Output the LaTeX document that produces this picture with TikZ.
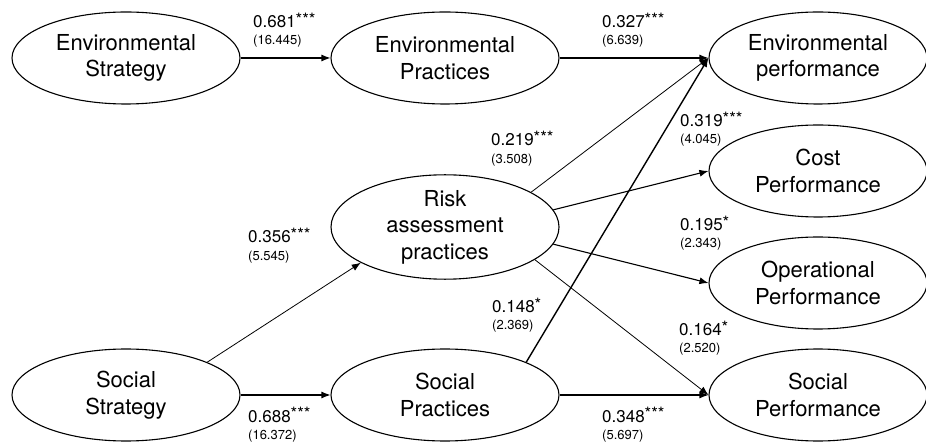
\documentclass[tikz,border=0pt]{standalone}
\usepackage{fontspec}
\setmainfont{TeX Gyre Heros}
\usetikzlibrary{shapes.geometric,arrows.meta}

% raised significance stars
\newcommand{\sigstars}[1]{\raisebox{2.5pt}{#1}}

\begin{document}
\begin{tikzpicture}[x=1pt,y=-1pt,
  construct/.style={ellipse,draw,line width=1.1pt,inner sep=0pt,
    minimum width=228pt,minimum height=92pt,align=center,
    font=\fontsize{22}{26.5}\selectfont},
  outcome/.style={construct,minimum width=218pt},
  effect/.style={line width=1.1pt,-{Latex[length=9pt,width=7pt]}},
  weakeffect/.style={effect,line width=0.8pt},
  strongeffect/.style={effect,line width=1.4pt},
  coef/.style={anchor=base west,inner sep=0pt,font=\fontsize{17}{20}\selectfont},
  tval/.style={anchor=base west,inner sep=0pt,font=\fontsize{13}{15}\selectfont},
]
\useasboundingbox (0,0) rectangle (926,443);

% constructs
\node[construct] (es)    at (126,58)  {Environmental\\Strategy};
\node[construct] (ep)    at (445,58)  {Environmental\\Practices};
\node[outcome]   (eperf) at (818,58)  {Environmental\\performance};
\node[outcome]   (cperf) at (818,171) {Cost\\Performance};
\node[construct] (risk)  at (445,227) {Risk\\assessment\\practices};
\node[outcome]   (operf) at (818,283) {Operational\\Performance};
\node[construct] (ss)    at (126,395) {Social\\Strategy};
\node[construct] (sp)    at (445,395) {Social\\Practices};
\node[outcome]   (sperf) at (818,395) {Social\\Performance};

% structural paths
\draw[effect] (es) -- (ep);
\draw[effect] (ep) -- (eperf);
\draw[effect] (ss) -- (sp);
\draw[effect] (sp) -- (sperf);
\draw[weakeffect] (ss.22) -- (risk.-157);
\draw[weakeffect] (risk.22) -- (eperf.west);
\draw[strongeffect] (sp.22) -- (eperf.west);
\draw[effect] (risk.9) -- (cperf.west);
\draw[effect] (risk.-9) -- (operf.west);
\draw[weakeffect] (risk.-20) -- (sperf.west);

% path coefficients and t-values
\node[coef] (c1) at (253,28) {0.681\sigstars{***}};
\node[tval] (t1) at (253,45) {(16.445)};
\node[coef] (c2) at (602,28) {0.327\sigstars{***}};
\node[tval] (t2) at (602,45) {(6.639)};
\node[coef] (c3) at (491,146) {0.219\sigstars{***}};
\node[tval] (t3) at (491,164) {(3.508)};
\node[coef] (c4) at (248,243) {0.356\sigstars{***}};
\node[tval] (t4) at (248,261) {(5.545)};
\node[coef] (c5) at (680,127) {0.319\sigstars{***}};
\node[tval] (t5) at (680,144) {(4.045)};
\node[coef] (c6) at (680,231) {0.195\sigstars{*}};
\node[tval] (t6) at (680,248) {(2.343)};
\node[coef] (c7) at (492,313) {0.148\sigstars{*}};
\node[tval] (t7) at (492,330) {(2.369)};
\node[coef] (c8) at (679,336) {0.164\sigstars{*}};
\node[tval] (t8) at (679,353) {(2.520)};
\node[coef] (c9) at (248,422) {0.688\sigstars{***}};
\node[tval] (t9) at (248,439) {(16.372)};
\node[coef] (c10) at (602,422) {0.348\sigstars{***}};
\node[tval] (t10) at (602,439) {(5.697)};
\end{tikzpicture}
\end{document}
